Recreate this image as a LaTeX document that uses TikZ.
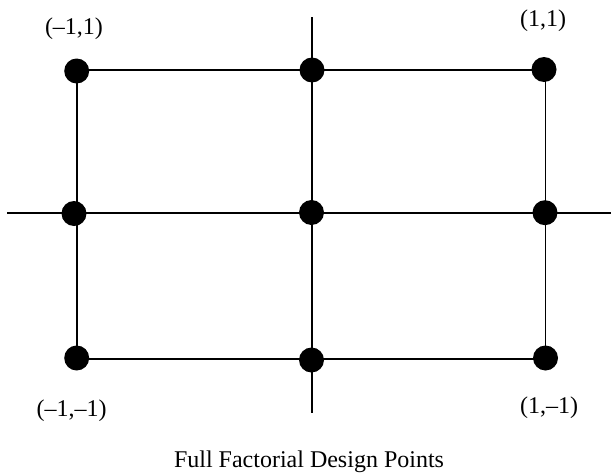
\documentclass[tikz,border=0pt]{standalone}
\usepackage{fontspec}
\setmainfont{Liberation Serif}
\begin{document}
\begin{tikzpicture}[x=1pt,y=-1pt,
  dot/.style={circle,fill=black,inner sep=0pt,minimum size=25pt},
  edge/.style={line width=1.8pt,black},
  lbl/.style={anchor=base,inner sep=0pt,font=\fontsize{24}{28}\selectfont}]
\useasboundingbox (0,0) rectangle (611,474);
% grid points
\coordinate (tl) at (76.7,70);
\coordinate (tm) at (312,70);
\coordinate (tr) at (545.5,70);
\coordinate (ml) at (76.7,212.7);
\coordinate (mr) at (545.5,212.7);
\coordinate (bl) at (76.7,359);
\coordinate (bm) at (312,359);
\coordinate (br) at (545.5,359);
\coordinate (mm) at (312,212.7);
% axis ends
\coordinate (axL) at (7,212.7);
\coordinate (axR) at (611,212.7);
\coordinate (axT) at (312,17);
\coordinate (axB) at (312,412.7);
% lines
\draw[edge] (tl) -- (tm) -- (tr) -- (mr) -- (br) -- (bm) -- (bl) -- (ml) -- cycle;
\draw[edge] (axL) -- (axR);
\draw[edge] (axT) -- (axB);
% dots
\node[dot] (d1) at (76.7,71) {};
\node[dot] (d2) at (312,70) {};
\node[dot] (d3) at (544,69.5) {};
\node[dot] (d4) at (74,213.5) {};
\node[dot] (d5) at (311.5,212.5) {};
\node[dot] (d6) at (545,212.7) {};
\node[dot] (d7) at (76.7,358) {};
\node[dot] (d8) at (311.5,360) {};
\node[dot] (d9) at (545.5,358) {};
% labels
\node[lbl] (l1) at (74,34.3) {(–1,1)};
\node[lbl] (l2) at (543,26.7) {(1,1)};
\node[lbl] (l3) at (71.7,416) {(–1,–1)};
\node[lbl] (l4) at (549,413) {(1,–1)};
\node[lbl] (title) at (309,467) {Full Factorial Design Points};
\end{tikzpicture}
\end{document}
